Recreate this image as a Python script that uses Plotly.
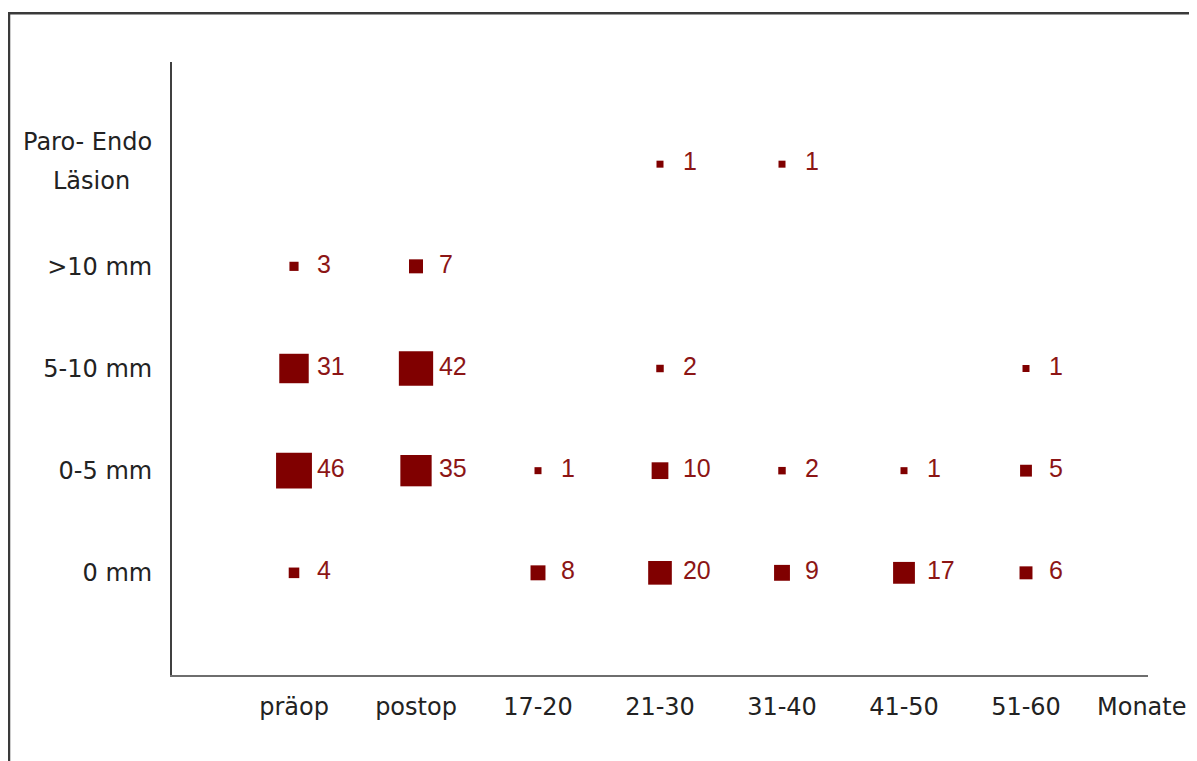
import plotly.graph_objects as go

# ---- data ----
months = ["präop", "postop", "17-20", "21-30", "31-40", "41-50", "51-60"]
levels = ["0 mm", "0-5 mm", "5-10 mm", ">10 mm", "Paro- Endo Läsion"]
level_ticks = ["0 mm", "0-5 mm", "5-10 mm", ">10 mm", ""]
count_0mm = [4, None, 8, 20, 9, 17, 6]
count_0_5mm = [46, 35, 1, 10, 2, 1, 5]
count_5_10mm = [31, 42, None, 2, None, None, 1]
count_gt10mm = [3, 7, None, None, None, None, None]
count_paro_endo = [None, None, None, 1, 1, None, None]

rows = [count_0mm, count_0_5mm, count_5_10mm, count_gt10mm, count_paro_endo]

xs, ys, vals = [], [], []
for lvl, row in zip(levels, rows):
    for m, v in zip(months, row):
        if v is not None:
            xs.append(m)
            ys.append(lvl)
            vals.append(v)

MARK = "#800000"
LABEL = "#8c1515"
AXFONT = dict(family="DejaVu Sans", size=24, color="#222222")

fig = go.Figure()
fig.add_trace(go.Scatter(
    x=xs, y=ys, mode="markers",
    marker=dict(symbol="square", color=MARK, opacity=1, size=vals, sizemode="area",
                sizeref=2 / 28.0, sizemin=3.5, line=dict(width=0)),
    hoverinfo="x+y+text", text=[str(v) for v in vals], showlegend=False,
))
# data labels (offset right of the point)
fig.add_trace(go.Scatter(
    x=xs, y=ys, mode="markers+text",
    marker=dict(symbol="square", size=35, color="rgba(0,0,0,0)"),
    text=[str(v) for v in vals], textposition="middle right",
    textfont=dict(family="Liberation Sans", size=25, color=LABEL),
    hoverinfo="skip", showlegend=False,
))

fig.update_layout(
    width=1189, height=753,
    margin=dict(l=164, r=49, t=54, b=86),
    paper_bgcolor="white", plot_bgcolor="white",
    font=AXFONT,
    xaxis=dict(type="category", categoryorder="array", categoryarray=months,
               range=[-1, 7], showgrid=False, zeroline=False,
               showline=True, linecolor="#6e6e6e", linewidth=2,
               ticks="", tickfont=AXFONT, ticklabelstandoff=9),
    yaxis=dict(type="category", categoryorder="array", categoryarray=levels,
               range=[-1, 5], showgrid=False, zeroline=False,
               showline=True, linecolor="#404040", linewidth=2,
               ticks="", tickmode="array", tickvals=levels, ticktext=level_ticks,
               tickfont=AXFONT, ticklabelstandoff=13),
    shapes=[dict(type="rect", xref="paper", yref="paper",
                 x0=-0.167, x1=1.1, y0=-0.2, y1=1.0794,
                 line=dict(color="#3a3a3a", width=2.5), layer="below")],
    annotations=[
        dict(text="Monate", xref="paper", yref="paper", x=0.9457, y=-0.052,
             xanchor="left", yanchor="middle", showarrow=False, font=AXFONT),
        dict(text="Paro- Endo", xref="paper", yref="y", x=0, y=levels[4],
             xanchor="right", yanchor="middle", xshift=-18, yshift=22,
             showarrow=False, font=AXFONT),
        dict(text="Läsion", xref="paper", yref="y", x=0, y=levels[4],
             xanchor="right", yanchor="middle", xshift=-40, yshift=-17,
             showarrow=False, font=AXFONT),
    ],
)

fig.write_html("out.html")
